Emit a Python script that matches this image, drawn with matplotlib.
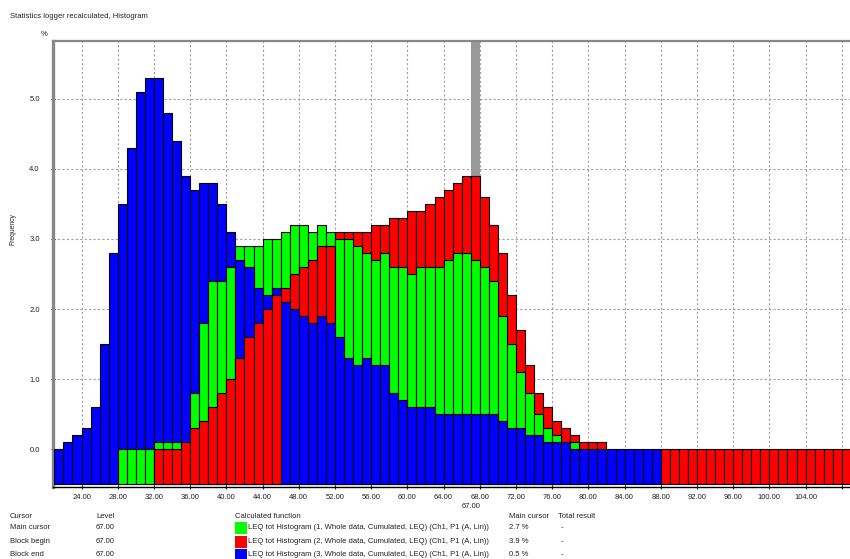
import numpy as np
import matplotlib
matplotlib.use('Agg')
import matplotlib.pyplot as plt
import matplotlib.transforms as mtransforms
from matplotlib.patches import Rectangle

nan = np.nan

# ---------------- data (percent per 1 dB class) ----------------
first_level = 21
last_level = 108

blue_start = 21
blue = [0.0, 0.1, 0.2, 0.3, 0.6, 1.5, 2.8,
        3.5, 4.3, 5.1, 5.3, 5.3, 4.8, 4.4, 3.9, 3.7, 3.8, 3.8, 3.5, 3.1,
        2.7, 2.6, 2.3, 2.2, 2.3,
        2.1, 2.0, 1.9, 1.8, 1.9, 1.8,
        1.6, 1.3, 1.2, 1.3, 1.2, 1.2,
        0.8, 0.7, 0.6, 0.6, 0.6, 0.5,
        0.5, 0.5, 0.5, 0.5, 0.5, 0.5,
        0.4, 0.3, 0.3, 0.2, 0.2, 0.1, 0.1, 0.1, 0.0,
        0.0, 0.0, 0.0, 0.0, 0.0, 0.0, 0.0, 0.0, 0.0]

green_start = 28
green = [0.0, 0.0, 0.0, 0.0,
         0.1, 0.1, 0.1, nan,
         0.8, 1.8, 2.4, 2.4, 2.6,
         2.9, 2.9, 2.9, 3.0, 3.0,
         3.1, 3.2, 3.2, 3.1, 3.2, 3.1,
         3.0, 3.0, 2.9, 2.8, 2.7, 2.8,
         2.6, 2.6, 2.5, 2.6, 2.6, 2.6,
         2.7, 2.8, 2.8, 2.7, 2.6, 2.4,
         1.9, 1.5, 1.1, 0.8, 0.5, 0.3, 0.2,
         nan, 0.1]

red_start = 32
red = [0.0, 0.0, 0.0, 0.1,
       0.3, 0.4, 0.6, 0.8, 1.0,
       1.3, 1.6, 1.8, 2.0, 2.2,
       2.3, 2.5, 2.6, 2.7, 2.9, 2.9,
       3.1, 3.1, 3.1, 3.1, 3.2, 3.2,
       3.3, 3.3, 3.4, 3.4, 3.5, 3.6,
       3.7, 3.8, 3.9, 3.9, 3.6, 3.2,
       2.8, 2.2, 1.7, 1.2, 0.8, 0.6, 0.4, 0.3, 0.2, 0.1, 0.1, 0.1,
       nan, nan, nan, nan, nan, nan,
       0.0, 0.0, 0.0, 0.0, 0.0, 0.0, 0.0, 0.0, 0.0, 0.0, 0.0,
       0.0, 0.0, 0.0, 0.0, 0.0, 0.0, 0.0, 0.0, 0.0, 0.0]

series_colors = ['#0000ff', '#00ff00', '#ff0000']
cursor_level = 67.0
legend_names = ['LEQ tot Histogram (1, Whole data, Cumulated, LEQ) (Ch1, P1 (A, Lin))',
                'LEQ tot Histogram (2, Whole data, Cumulated, LEQ) (Ch1, P1 (A, Lin))',
                'LEQ tot Histogram (3, Whole data, Cumulated, LEQ) (Ch1, P1 (A, Lin))']
legend_colors = ['#00ff00', '#ff0000', '#0000ff']
cursor_rows = ['Main cursor', 'Block begin', 'Block end']
cursor_levels = ['67.00', '67.00', '67.00']
main_cursor_vals = ['2.7 %', '3.9 %', '0.5 %']
x_ticks = list(range(24, 109, 4))
y_ticks = [0, 1, 2, 3, 4, 5]

# ---------------- build arrays ----------------
levels = np.arange(first_level, last_level + 1)
N = len(levels)

def full(start, vals):
    arr = np.full(N, np.nan)
    i0 = start - first_level
    arr[i0:i0 + len(vals)] = vals
    return arr

vals = np.vstack([full(blue_start, blue), full(green_start, green), full(red_start, red)])

W, H = 850, 559
plt.rcParams['font.family'] = ['Liberation Sans', 'DejaVu Sans']
fig = plt.figure(figsize=(W / 100, H / 100), dpi=100)
FS = 5.5
TXT = '#222222'

def fx(x):
    return x / W

def fy(y):
    return 1 - y / H

ax_left, ax_right, ax_top, ax_bot = 53, 860, 41, 486.7
ax = fig.add_axes([fx(ax_left), fy(ax_bot), (ax_right - ax_left) / W, (ax_bot - ax_top) / H])

px_per_db = 9.05
px_per_pct = 70.0
x0 = 21 - (54.4 - ax_left) / px_per_db
ax.set_xlim(x0, x0 + (ax_right - ax_left) / px_per_db)
ymin, ymax = -(ax_bot - 449) / px_per_pct, (449 - ax_top) / px_per_pct
ax.set_ylim(ymin, ymax)
bottom = -0.5

# overlapping bars: largest behind, smallest in front
key = np.where(np.isnan(vals), -np.inf, vals)
order = np.argsort(-key, axis=0, kind='stable')
cols = np.array(series_colors)
for layer in range(3):
    idx = order[layer]
    h = vals[idx, np.arange(N)]
    m = ~np.isnan(h)
    ax.bar(levels[m], h[m] - bottom, bottom=bottom, width=1.0, align='edge',
           color=cols[idx[m]], edgecolor='black', linewidth=0.8, zorder=3 + layer)

# cursor band
ax.axvspan(cursor_level, cursor_level + 1, ymin=(bottom - ymin) / (ymax - ymin), ymax=1,
           color='#999999', zorder=2, lw=0)

# ticks & grid
ax.set_xticks(x_ticks)
ax.set_xticklabels(['%.2f' % t if t < 108 else '' for t in x_ticks])
ax.set_yticks(y_ticks)
ax.set_yticklabels(['%.1f' % t for t in y_ticks])
ax.grid(True, color='#a0a0a0', linestyle=(0, (2, 2)), linewidth=0.8, zorder=1)
ax.set_axisbelow(True)

ax.spines['right'].set_visible(False)
ax.spines['left'].set_color('#888888')
ax.spines['left'].set_linewidth(2.4)
ax.spines['top'].set_color('#888888')
ax.spines['top'].set_linewidth(1.6)
ax.spines['bottom'].set_color('black')
ax.spines['bottom'].set_linewidth(1.0)

ax.tick_params(axis='both', labelsize=FS, colors=TXT, direction='inout', length=3, width=0.8)
ax.tick_params(axis='y', pad=8)
ax.tick_params(axis='x', pad=4)

# cursor label under axis
trans = mtransforms.blended_transform_factory(ax.transData, fig.transFigure)
ax.text(cursor_level, fy(506), '67.00', transform=trans, fontsize=FS, color=TXT,
        ha='center', va='center', clip_on=False)

# texts
fig.text(fx(10), fy(16), 'Statistics logger recalculated, Histogram', fontsize=FS, color=TXT, va='center')
fig.text(fx(44), fy(35), '%', fontsize=FS, color=TXT, va='center', ha='center')
fig.text(fx(13), fy(229), 'Frequency', fontsize=4.9, color=TXT, va='center', ha='center', rotation=90)

# legend table
hdr_y = 516
fig.text(fx(10), fy(hdr_y), 'Cursor', fontsize=FS, color=TXT, va='center')
fig.text(fx(96), fy(hdr_y), 'Level', fontsize=FS, color=TXT, va='center')
fig.text(fx(235), fy(hdr_y), 'Calculated function', fontsize=FS, color=TXT, va='center')
fig.text(fx(509), fy(hdr_y), 'Main cursor', fontsize=FS, color=TXT, va='center')
fig.text(fx(558), fy(hdr_y), 'Total result', fontsize=FS, color=TXT, va='center')
row_ys = [527.5, 541.5, 555]
for i, ry in enumerate(row_ys):
    fig.text(fx(10), fy(ry), cursor_rows[i], fontsize=FS, color=TXT, va='center')
    fig.text(fx(96), fy(ry), cursor_levels[i], fontsize=FS, color=TXT, va='center')
    fig.patches.append(Rectangle((fx(235), fy(ry + 6)), 12 / W, 12 / H, transform=fig.transFigure,
                                 facecolor=legend_colors[i], edgecolor='none', figure=fig))
    fig.text(fx(248.5), fy(ry), legend_names[i], fontsize=FS, color=TXT, va='center')
    fig.text(fx(509), fy(ry), main_cursor_vals[i], fontsize=FS, color=TXT, va='center')
    fig.text(fx(561), fy(ry), '-', fontsize=FS, color=TXT, va='center')

fig.savefig('out.png', dpi=100)
